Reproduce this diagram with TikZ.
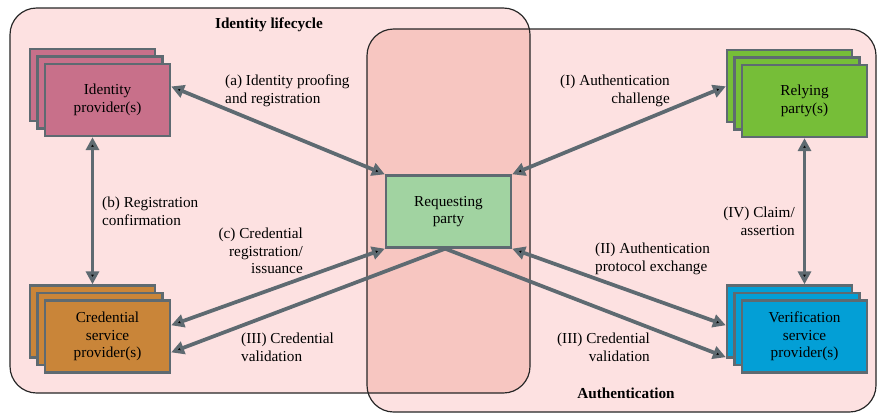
\documentclass[tikz,border=0pt]{standalone}
\usepackage{fontspec}
\setmainfont{Liberation Serif}
\usetikzlibrary{arrows.meta, shadows}
\definecolor{edgegray}{HTML}{5E6A71}
\definecolor{lightpink}{HTML}{FDE1E1}
\definecolor{midpink}{HTML}{F7C6C1}
\definecolor{idpcol}{HTML}{C8708A}
\definecolor{cspcol}{HTML}{C98539}
\definecolor{reqcol}{HTML}{A1D3A1}
\definecolor{rpcol}{HTML}{76BE38}
\definecolor{vspcol}{HTML}{039FD6}

\begin{document}
\begin{tikzpicture}[x=0.03cm, y=-0.03cm, font=\fontsize{13}{15}\selectfont,
    >={Triangle[length=11pt,width=11pt]},
    area/.style={rounded corners=0.8cm, draw=black!85, line width=1pt},
    box/.style={draw=edgegray, line width=2pt, minimum width=3.75cm, minimum height=2.16cm, align=center, inner sep=2pt},
    stack/.style={box, double copy shadow={shadow xshift=-0.225cm, shadow yshift=0.225cm}},
    link/.style={draw=edgegray, line width=3.2pt},
    lbl/.style={inner sep=0pt}]
    \useasboundingbox (0,0) rectangle (877,415);

    % the two areas
    \fill[lightpink, rounded corners=0.8cm] (10,8) rectangle (530,393);
    \fill[lightpink, rounded corners=0.8cm] (367,29) rectangle (876,412);
    \begin{scope}
        \clip[rounded corners=0.8cm] (10,8) rectangle (530,393);
        \fill[midpink, rounded corners=0.8cm] (367,29) rectangle (876,412);
    \end{scope}
    \draw[area] (10,8) rectangle (530,393);
    \draw[area] (367,29) rectangle (876,412);
    \node[font=\fontsize{13}{15}\selectfont\bfseries] (life) at (269,25) {Identity lifecycle};
    \node[font=\fontsize{13}{15}\selectfont\bfseries] (auth) at (626,393) {Authentication};

    \node[stack, fill=idpcol] (idp) at (107.5,100)   {Identity\\provider(s)};
    \node[stack, fill=cspcol] (csp) at (107.5,336.5) {Credential\\service\\provider(s)};
    \node[box,   fill=reqcol] (req) at (448.5,211.5) {Requesting\\party};
    \node[stack, fill=rpcol]  (rp)  at (804.5,101)   {Relying\\party(s)};
    \node[stack, fill=vspcol] (vsp) at (804.5,336.5) {Verification\\service\\provider(s)};

    \path[link]
        (idp.12) edge[<->] (req.north west)
        ([xshift=-0.45cm]idp.south) edge[<->] ([xshift=-0.45cm,yshift=0.45cm]csp.north)
        (csp.10) edge[<->] (req.south west)
        ([xshift=-0.1cm]req.south) edge[->] (csp.-14)
        ([xshift=-0.45cm]rp.167) edge[<->] (req.north east)
        (req.south east) edge[<->] ([xshift=-0.45cm]vsp.170)
        ([xshift=-0.1cm]req.south) edge[->] ([xshift=-0.45cm]vsp.-162)
        (rp.south) edge[<->] ([yshift=0.45cm]vsp.north);

    \node[lbl, anchor=north west, align=left]  (la)   at (225,75)  {(a) Identity proofing\\and registration};
    \node[lbl, anchor=north west, align=left]  (lb)   at (102,197) {(b) Registration\\confirmation};
    \node[lbl, anchor=north east, align=right] (lc)   at (303,228) {(c) Credential\\registration/\\issuance};
    \node[lbl, anchor=north west, align=left]  (l3a)  at (241,333) {(III) Credential\\validation};
    \node[lbl, anchor=north east, align=right] (l1)   at (670,75)  {(I) Authentication\\challenge};
    \node[lbl, anchor=north east, align=right] (l4)   at (795,207) {(IV) Claim/\\assertion};
    \node[lbl, anchor=north west, align=left]  (l2)   at (595,243) {(II) Authentication\\protocol exchange};
    \node[lbl, anchor=north east, align=right] (l3b)  at (650,333) {(III) Credential\\validation};
\end{tikzpicture}
\end{document}
